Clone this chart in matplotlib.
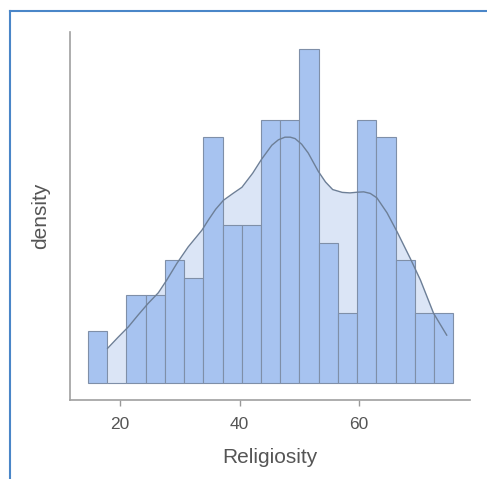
import numpy as np
import matplotlib.pyplot as plt
from matplotlib.lines import Line2D

plt.rcParams['font.family'] = ['Liberation Sans', 'DejaVu Sans']

# histogram: 19 bins between the lowest and highest score, counts per bin
bin_lo, bin_hi = 14.6, 75.8
counts = np.array([3, 0, 5, 5, 7, 6, 14, 9, 9, 15, 15, 19, 8, 4, 15, 14, 7, 4, 4])

# density curve (x in Religiosity, y in counts-per-bin units)
kde_x = np.array([17.9, 19.6, 21.4, 23.0, 24.7, 26.4, 27.8, 29.5, 31.4, 33.7,
                  34.8, 36.0, 37.3, 38.9, 40.4, 42.2, 43.7, 45.4, 46.5, 47.6,
                  48.5, 49.3, 50.4, 51.5, 53.2, 54.4, 55.6, 57.2, 58.5, 59.7,
                  60.8, 61.9, 63.0, 64.7, 66.4, 68.6, 70.3, 72.5, 74.7])
kde_y = np.array([1.99, 2.60, 3.22, 3.88, 4.55, 5.15, 5.87, 6.82, 7.76, 8.71,
                  9.30, 9.90, 10.41, 10.80, 11.15, 11.95, 12.75, 13.54, 13.85, 14.00,
                  14.00, 13.92, 13.60, 13.10, 12.05, 11.45, 11.02, 10.86, 10.83, 10.87,
                  10.89, 10.80, 10.55, 9.70, 8.61, 7.10, 5.87, 3.98, 2.74])

xticks = [20, 40, 60]

edges = np.linspace(bin_lo, bin_hi, len(counts) + 1)
centers = (edges[:-1] + edges[1:]) / 2
width = edges[1] - edges[0]
scale = counts.sum() * width

fig = plt.figure(figsize=(4.87, 4.79), dpi=100)
ax = fig.add_axes([70 / 487, 1 - 400 / 479, 400 / 487, 368.3 / 479])

ax.fill_between(kde_x, 0, kde_y / scale, color='#dbe5f6', lw=0, zorder=1)
ax.hist(centers, bins=edges, weights=counts, density=True,
        color='#a7c3f0', edgecolor='#7f8fa8', linewidth=0.8, zorder=2)
ax.plot(kde_x, kde_y / scale, color='#6d7f97', lw=1.0, zorder=3)

ax.set_xlim(11.6, 78.6)
ax.set_ylim(-0.95 / scale, 20 / scale)
ax.set_xticks(xticks)
ax.set_yticks([])
ax.tick_params(axis='x', length=4, width=1, color='#999999', labelcolor='#555555',
               labelsize=12.5, pad=8)
for s in ['top', 'right']:
    ax.spines[s].set_visible(False)
for s in ['left', 'bottom']:
    ax.spines[s].set_color('#a0a0a0')
    ax.spines[s].set_linewidth(1.2)

ax.set_xlabel('Religiosity', fontsize=15, color='#555555', labelpad=12)
ax.set_ylabel('density', fontsize=15, color='#555555', labelpad=14)

# blue frame of the screenshot
fig.add_artist(Line2D([10 / 487, 10 / 487], [0, 1 - 11 / 479], transform=fig.transFigure,
                      color='#4a86c8', lw=1.5))
fig.add_artist(Line2D([10 / 487, 1], [1 - 11 / 479, 1 - 11 / 479], transform=fig.transFigure,
                      color='#4a86c8', lw=1.5))

plt.savefig('out.png', dpi=100)
plt.close()
